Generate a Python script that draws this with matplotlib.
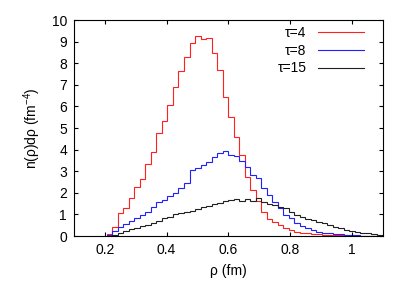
import numpy as np
import matplotlib
matplotlib.use("Agg")
import matplotlib.pyplot as plt

plt.rcParams['font.family'] = ['Liberation Sans', 'DejaVu Sans']
plt.rcParams['mathtext.fontset'] = 'custom'
plt.rcParams['mathtext.rm'] = 'Liberation Sans'

# histogram bins (fm)
bin_start = 0.207
bin_width = 0.0178

# tau = 4
n_tau4 = [0.08, 0.40, 1.05, 1.31, 1.78, 2.27, 2.63, 3.32, 3.90, 4.75,
          5.34, 6.09, 6.91, 7.62, 8.30, 8.92, 9.24, 9.12, 9.17, 8.46,
          7.69, 6.45, 5.50, 4.57, 3.75, 2.75, 2.13, 1.62, 1.13, 0.77,
          0.66, 0.51, 0.38, 0.28, 0.20, 0.16, 0.12, 0.10, 0.08, 0.06,
          0.05, 0.04, 0.03, 0.02, 0.02, 0.01, 0.01, 0.01, 0.0, 0.0, 0.0]
# tau = 8
n_tau8 = [0.05, 0.25, 0.40, 0.56, 0.69, 0.82, 0.97, 1.13, 1.33, 1.56,
          1.67, 1.85, 1.98, 2.21, 2.44, 3.06, 3.13, 3.29, 3.44, 3.67,
          3.83, 3.94, 3.75, 3.70, 3.49, 3.21, 2.82, 2.67, 2.21, 1.90,
          1.59, 1.28, 0.97, 0.82, 0.62, 0.45, 0.35, 0.26, 0.20, 0.16,
          0.12, 0.09, 0.07, 0.05, 0.04, 0.03, 0.02, 0.02, 0.01, 0.01, 0.01]
# tau = 15
n_tau15 = [0.0, 0.04, 0.14, 0.23, 0.31, 0.39, 0.46, 0.51, 0.62, 0.69,
           0.82, 0.89, 1.02, 1.05, 1.13, 1.16, 1.24, 1.33, 1.39, 1.48,
           1.54, 1.60, 1.67, 1.70, 1.64, 1.71, 1.64, 1.74, 1.59, 1.48,
           1.44, 1.33, 1.28, 1.13, 0.97, 0.89, 0.80, 0.74, 0.66, 0.59,
           0.50, 0.42, 0.36, 0.30, 0.25, 0.20, 0.15, 0.12, 0.09, 0.06, 0.04]

labels = ["τ=4", "τ=8", "τ=15"]
colors = ["#ff2020", "#2020ff", "#202020"]

edges = bin_start + bin_width * np.arange(len(n_tau4) + 1)

fig = plt.figure(figsize=(4.15, 2.91), dpi=100)
ax = fig.add_axes([0.178, 0.189, 0.745, 0.742])

for vals, lab, col in zip([n_tau4, n_tau8, n_tau15], labels, colors):
    ax.stairs(vals, edges, color=col, lw=0.8, label=lab)

ax.set_xlim(0.1, 1.1)
ax.set_ylim(0, 10)
ax.set_xticks([0.2, 0.4, 0.6, 0.8, 1.0])
ax.set_xticklabels(["0.2", "0.4", "0.6", "0.8", "1"])
ax.set_yticks(range(0, 11))
ax.tick_params(direction="in", top=True, right=True, labelsize=10,
               length=3, width=0.8, pad=5)
for s in ax.spines.values():
    s.set_linewidth(0.8)

ax.set_xlabel("ρ (fm)", fontsize=10, labelpad=5)
ax.set_ylabel("n(ρ)dρ (fm$^{-4}$)", fontsize=10, labelpad=6)

ax.legend(loc="upper right", frameon=False, markerfirst=False, fontsize=10,
          handlelength=3.3, handletextpad=0.8, labelspacing=0.28,
          borderaxespad=0.0, bbox_to_anchor=(0.955, 1.0))

fig.savefig("out.png", dpi=100)
